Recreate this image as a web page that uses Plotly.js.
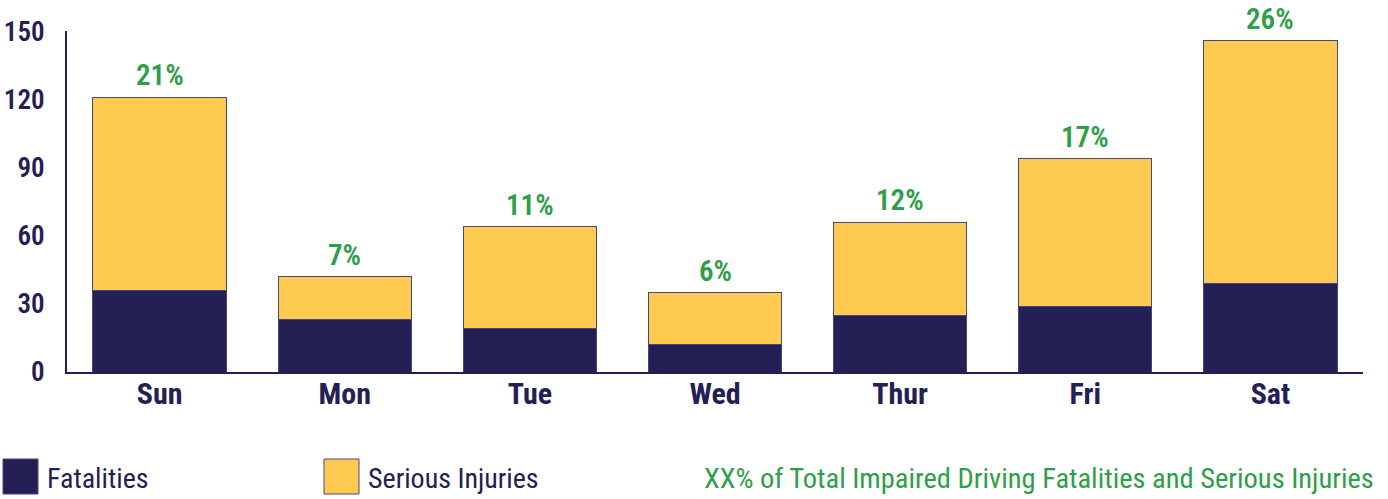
<!DOCTYPE html>
<html>
<head>
<meta charset="utf-8">
<script src="https://cdn.plot.ly/plotly-3.0.1.min.js"></script>
<style>html,body{margin:0;padding:0;background:#fff;}#chart{width:1388px;height:499px;}</style>
</head>
<body>
<div id="chart"></div>
<script>
const days = ["Sun", "Mon", "Tue", "Wed", "Thur", "Fri", "Sat"];
const fatalities = [36, 23, 19, 12, 25, 29, 39];
const seriousInjuries = [85, 19, 45, 23, 41, 65, 107];
const pctLabels = ["21%", "7%", "11%", "6%", "12%", "17%", "26%"];
const yTicks = [0, 30, 60, 90, 120, 150];

const NAVY = "#242056";
const YELLOW = "#FECB50";
const GREEN = "#2E9E49";
const FONT = "'Roboto Condensed', 'DejaVu Sans Condensed', 'DejaVu Sans', sans-serif";
const STRETCH = "condensed";

const totals = fatalities.map((f, i) => f + seriousInjuries[i]);

const traces = [
  {
    type: "bar", name: "Fatalities", x: days, y: fatalities,
    marker: {color: NAVY, line: {color: "#4a4680", width: 1}},
    hoverinfo: "skip", showlegend: false
  },
  {
    type: "bar", name: "Serious Injuries", x: days, y: seriousInjuries,
    marker: {color: YELLOW, line: {color: "#4a4680", width: 1}},
    hoverinfo: "skip", showlegend: false
  }
];

const annotations = days.map((d, i) => ({
  x: d, y: totals[i], xref: "x", yref: "y",
  text: pctLabels[i], showarrow: false, yanchor: "bottom", yshift: 3,
  font: {family: FONT, size: 29, color: GREEN, weight: 600, stretch: STRETCH}
}));

// custom legend
const W = 1296, H = 341, L = 67, T = 31;
const px = v => (v - L) / W;
const py = v => (T + H - v) / H;
const legend = [
  {label: "Fatalities", color: NAVY, sx: 3, tx: 45},
  {label: "Serious Injuries", color: YELLOW, sx: 324, tx: 366}
];
const shapes = legend.map(l => ({
  type: "rect", xref: "paper", yref: "paper",
  x0: px(l.sx), x1: px(l.sx + 35), y0: py(494), y1: py(459),
  fillcolor: l.color, line: {color: "#4a4680", width: 1}
}));
legend.forEach(l => annotations.push({
  xref: "paper", yref: "paper", x: px(l.tx), y: py(478),
  xanchor: "left", yanchor: "middle", showarrow: false, text: l.label,
  font: {family: FONT, size: 28, color: NAVY, stretch: STRETCH}
}));
annotations.push({
  xref: "paper", yref: "paper", x: px(1376), y: py(478),
  xanchor: "right", yanchor: "middle", showarrow: false,
  text: "XX% of Total Impaired Driving Fatalities and Serious Injuries",
  font: {family: FONT, size: 28.5, color: GREEN, stretch: STRETCH}
});

const layout = {
  width: 1388, height: 499,
  margin: {l: L, r: 1388 - L - W, t: T, b: 499 - T - H, pad: 0},
  paper_bgcolor: "#fff", plot_bgcolor: "#fff",
  barmode: "stack", bargap: 0.28,
  showlegend: false,
  font: {family: FONT, color: NAVY, stretch: STRETCH},
  xaxis: {
    showline: true, linecolor: NAVY, linewidth: 2, showgrid: false, zeroline: false,
    ticks: "", ticklabelstandoff: -6,
    tickfont: {family: FONT, size: 30, color: NAVY, weight: 700, stretch: STRETCH}
  },
  yaxis: {
    range: [0, 150.3], showline: true, linecolor: NAVY, linewidth: 2,
    showgrid: false, zeroline: false, ticks: "",
    tickmode: "array", tickvals: yTicks, ticktext: yTicks.map(String),
    ticklabelstandoff: 15,
    tickfont: {family: FONT, size: 27, color: NAVY, weight: 600, stretch: STRETCH}
  },
  shapes: shapes,
  annotations: annotations
};

Plotly.newPlot("chart", traces, layout, {displayModeBar: false, staticPlot: true});
</script>
</body>
</html>
